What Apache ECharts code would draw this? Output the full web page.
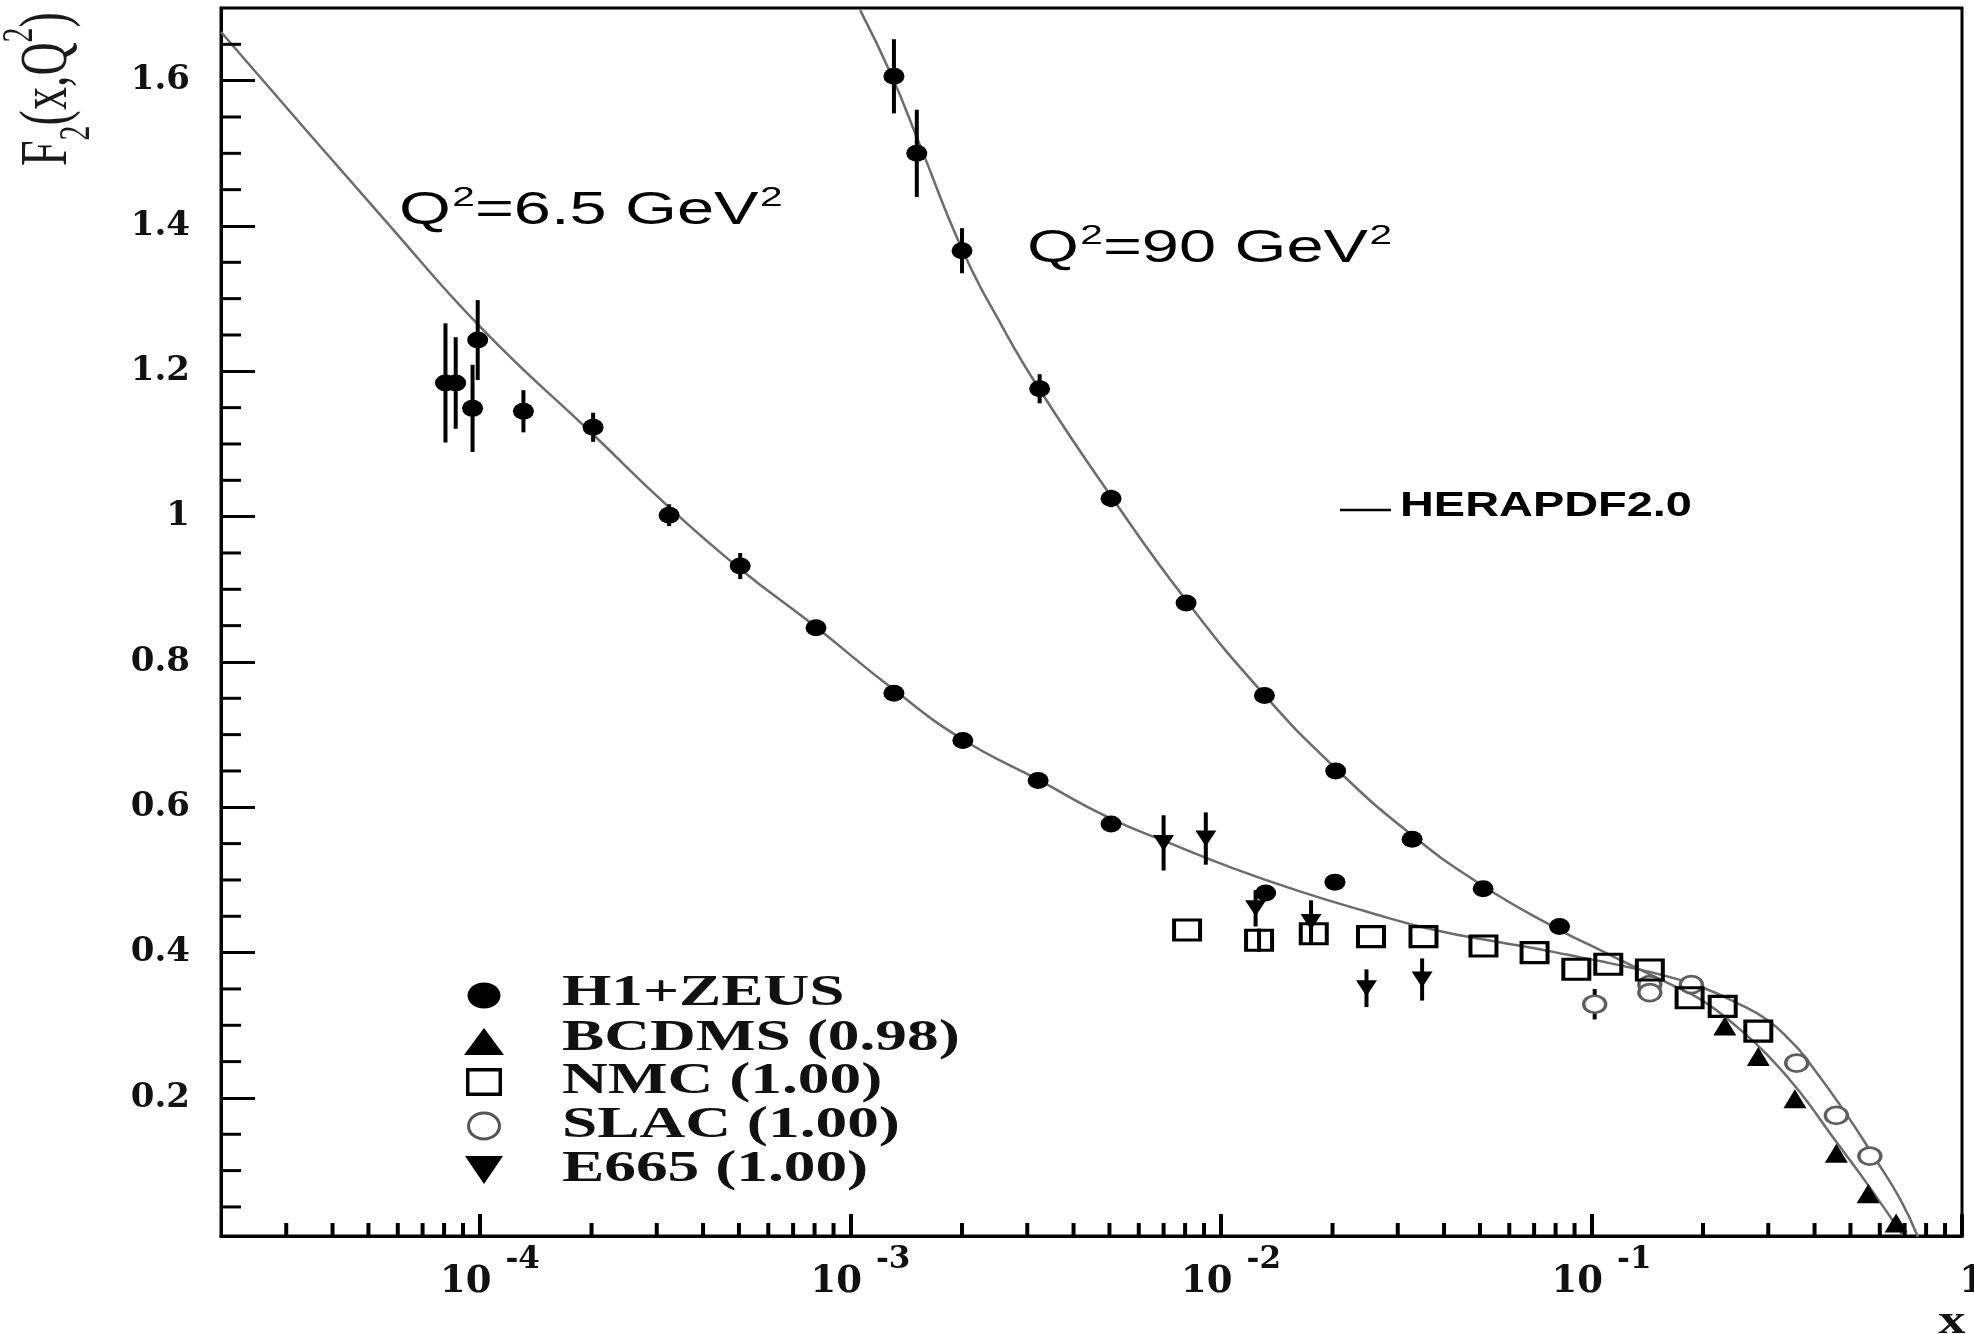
<!DOCTYPE html>
<html>
<head>
<meta charset="utf-8">
<script src="https://cdn.jsdelivr.net/npm/echarts@6/dist/echarts.min.js"></script>
<style>
  html, body { margin: 0; padding: 0; background: #ffffff; }
  #chart { width: 1974px; height: 1334px; }
</style>
</head>
<body>
<div id="chart"></div>
<script>
// Axis ranges
const X_MIN = 2e-5, X_MAX = 1;
const Y_MIN = 0.01, Y_MAX = 1.7;

// H1+ZEUS combined data, Q^2 = 6.5 GeV^2
const h1zeusQ65X = [8.07e-5, 8.6e-5, 9.55e-5, 9.86e-5, 1.31e-4, 2.02e-4, 3.24e-4, 5.04e-4, 8.07e-4, 1.31e-3, 2.01e-3, 3.21e-3, 5.05e-3, 1.32e-2, 2.03e-2];
const h1zeusQ65Y = [1.184, 1.184, 1.149, 1.243, 1.145, 1.123, 1.002, 0.932, 0.847, 0.757, 0.692, 0.637, 0.577, 0.482, 0.497];
const h1zeusQ65Err = [0.082, 0.063, 0.060, 0.055, 0.029, 0.020, 0.015, 0.018, 0.008, 0.008, 0.008, 0.008, 0.008, 0.010, 0.010];

// H1+ZEUS combined data, Q^2 = 90 GeV^2
const h1zeusQ90X = [1.31e-3, 1.51e-3, 2.0e-3, 3.24e-3, 5.05e-3, 8.05e-3, 1.31e-2, 2.04e-2, 3.28e-2, 5.1e-2, 8.2e-2];
const h1zeusQ90Y = [1.606, 1.500, 1.366, 1.176, 1.025, 0.881, 0.754, 0.650, 0.556, 0.488, 0.436];
const h1zeusQ90Err = [0.051, 0.060, 0.031, 0.020, 0.012, 0.010, 0.008, 0.008, 0.008, 0.007, 0.007];

// Fixed-target data
const bcdmsX = [0.229, 0.282, 0.354, 0.458, 0.558, 0.664];
const bcdmsY = [0.299, 0.257, 0.199, 0.124, 0.068, 0.028];

const nmcX = [8.1e-3, 1.267e-2, 1.78e-2, 2.54e-2, 3.52e-2, 5.11e-2, 7.02e-2, 9.1e-2, 0.111, 0.1437, 0.184, 0.226, 0.282];
const nmcY = [0.431, 0.417, 0.426, 0.422, 0.422, 0.409, 0.400, 0.377, 0.384, 0.376, 0.338, 0.326, 0.292];
const nmcErr = [0, 0.016, 0, 0, 0, 0, 0, 0, 0, 0, 0, 0, 0];

const slacX = [0.102, 0.1437, 0.1437, 0.186, 0.358, 0.458, 0.564];
const slacY = [0.329, 0.356, 0.345, 0.356, 0.248, 0.176, 0.120];
const slacErr = [0.021, 0, 0, 0, 0, 0, 0];

const e665X = [7.0e-3, 9.1e-3, 1.24e-2, 1.75e-2, 2.47e-2, 3.49e-2];
const e665Y = [0.551, 0.557, 0.461, 0.442, 0.351, 0.363];
const e665Err = [0.038, 0.036, 0.025, 0.030, 0.026, 0.029];

// HERAPDF2.0 curves
const herapdfQ65X = [2e-5, 5.65e-5, 1.02e-4, 2.03e-4, 3.16e-4, 5.01e-4, 8.07e-4, 1.30e-3, 2.0e-3, 3.21e-3, 5.01e-3, 7.16e-3, 1.08e-2, 1.64e-2, 2.49e-2, 3.77e-2, 5.70e-2, 7.02e-2, 8.63e-2, 0.106, 0.131, 0.161, 0.197, 0.244, 0.299, 0.350, 0.376, 0.475, 0.582, 0.682, 0.760];
const herapdfQ65Y = [1.667, 1.403, 1.257, 1.112, 1.018, 0.929, 0.848, 0.763, 0.694, 0.638, 0.585, 0.552, 0.516, 0.484, 0.456, 0.431, 0.414, 0.406, 0.397, 0.388, 0.378, 0.367, 0.353, 0.332, 0.307, 0.275, 0.257, 0.186, 0.117, 0.060, 0.009];

const herapdfQ90X = [1.062e-3, 1.291e-3, 1.535e-3, 2.018e-3, 2.553e-3, 3.228e-3, 5.05e-3, 8.02e-3, 1.313e-2, 2.036e-2, 3.236e-2, 5.05e-2, 8.14e-2, 0.106, 0.131, 0.161, 0.198, 0.244, 0.300, 0.369, 0.454, 0.558, 0.692];
const herapdfQ90Y = [1.697, 1.607, 1.513, 1.364, 1.264, 1.176, 1.028, 0.886, 0.754, 0.654, 0.564, 0.493, 0.432, 0.403, 0.380, 0.358, 0.335, 0.300, 0.258, 0.205, 0.142, 0.080, 0.011];

// Axis tick values
const xMinorTicks = [3e-5, 4e-5, 5e-5, 6e-5, 7e-5, 8e-5, 9e-5,
  2e-4, 3e-4, 4e-4, 5e-4, 6e-4, 7e-4, 8e-4, 9e-4,
  2e-3, 3e-3, 4e-3, 5e-3, 6e-3, 7e-3, 8e-3, 9e-3,
  2e-2, 3e-2, 4e-2, 5e-2, 6e-2, 7e-2, 8e-2, 9e-2,
  0.2, 0.3, 0.4, 0.5, 0.6, 0.7, 0.8, 0.9];
const yMinorTicks = [0.05, 0.1, 0.15, 0.25, 0.3, 0.35, 0.45, 0.5, 0.55, 0.65, 0.7, 0.75, 0.85, 0.9, 0.95,
  1.05, 1.1, 1.15, 1.25, 1.3, 1.35, 1.45, 1.5, 1.55, 1.65];

// Text
const legendLabels = ['H1+ZEUS', 'BCDMS (0.98)', 'NMC (1.00)', 'SLAC (1.00)', 'E665 (1.00)'];
const curveLabel = 'HERAPDF2.0';
const q2Labels = ['6.5', '90'];

const SERIF = '"Liberation Serif", "Times New Roman", serif';
const SANS = '"Liberation Sans", Arial, sans-serif';
const TICKFONT = '"DejaVu Serif", serif';
const INK = '#111111';
const CURVE = '#6c6c6c';

const pts = (xs, ys) => xs.map((x, i) => [x, ys[i]]);
const bars = (xs, ys, es) => xs.map((x, i) => [x, ys[i] - es[i], ys[i] + es[i]]).filter((d, i) => es[i] > 0);

function errorBarSeries(data) {
  return {
    type: 'custom', z: 3, silent: true,
    data: data,
    encode: { x: 0, y: [1, 2] },
    renderItem: function (params, api) {
      const x = api.value(0);
      const a = api.coord([x, api.value(1)]);
      const b = api.coord([x, api.value(2)]);
      return { type: 'line', shape: { x1: a[0], y1: a[1], x2: b[0], y2: b[1] },
               style: { stroke: '#000', lineWidth: 4 } };
    }
  };
}

function curveSeries(name, data) {
  return {
    type: 'line', name: name, data: data, showSymbol: false, symbol: 'none',
    smooth: 0.5, clip: true, z: 2, silent: true,
    lineStyle: { color: CURVE, width: 2.5 }
  };
}

const chart = echarts.init(document.getElementById('chart'), null, { renderer: 'canvas' });

const xLabelRich = {
  b: { fontFamily: TICKFONT, fontWeight: 'bold', fontSize: 37, lineHeight: 37, color: INK, padding: [20, 0, 0, 0] },
  e: { fontFamily: TICKFONT, fontWeight: 'bold', fontSize: 31, lineHeight: 31, color: INK, padding: [0, 0, 26, 14] },
  one: { fontFamily: TICKFONT, fontWeight: 'bold', fontSize: 37, lineHeight: 37, color: INK, padding: [20, 0, 0, 0] }
};

function q2Text(val) {
  return '{m|Q}{s|2}{m|=' + val + ' GeV}{s|2}';
}
const q2Rich = {
  m: { fontFamily: SANS, fontSize: 46, lineHeight: 46, padding: [4, 0, 0, 0], fill: '#000' },
  s: { fontFamily: SANS, fontSize: 28, lineHeight: 28, padding: [0, 0, 22, 1], fill: '#000' }
};

const legendRowsY = [994, 1039, 1082, 1126, 1169.5];
const legendGraphics = [];
// legend markers
legendGraphics.push({ type: 'ellipse', shape: { cx: 484, cy: 995.5, rx: 16.5, ry: 13 }, style: { fill: '#000' } });
legendGraphics.push({ type: 'polygon', shape: { points: [[464, 1055], [504, 1055], [484, 1028]] }, style: { fill: '#000' } });
legendGraphics.push({ type: 'rect', shape: { x: 467.75, y: 1069.75, width: 32.5, height: 24.5 }, style: { fill: 'none', stroke: '#000', lineWidth: 3.5 } });
legendGraphics.push({ type: 'ellipse', shape: { cx: 484, cy: 1126, rx: 15.5, ry: 13 }, style: { fill: 'none', stroke: '#555', lineWidth: 3 } });
legendGraphics.push({ type: 'polygon', shape: { points: [[465, 1156], [503, 1156], [484, 1184]] }, style: { fill: '#000' } });
legendLabels.forEach(function (label, i) {
  legendGraphics.push({
    type: 'text', x: 562, y: legendRowsY[i], scaleX: 1.44,
    style: { text: label, fontFamily: SERIF, fontWeight: 'bold', fontSize: 44, fill: INK,
             align: 'left', verticalAlign: 'middle' }
  });
});

const option = {
  animation: false,
  backgroundColor: '#ffffff',
  grid: {
    left: 221, right: 12, top: 8, bottom: 98,
    show: true, borderColor: '#000', borderWidth: 3, backgroundColor: 'transparent',
    outerBoundsMode: 'none'
  },
  xAxis: {
    type: 'log', logBase: 10, min: X_MIN, max: X_MAX,
    axisLine: { show: true, lineStyle: { color: '#000', width: 3 } },
    axisTick: { show: true, inside: true, length: 22, lineStyle: { color: '#000', width: 4 } },
    splitLine: { show: false },
    minorTick: { show: false },
    axisLabel: {
      show: true, showMinLabel: false, showMaxLabel: true, hideOverlap: false,
      margin: 18, padding: [0, 0, 0, 20], color: INK,
      formatter: function (v) {
        const lg = Math.log10(v);
        const ex = Math.round(lg);
        if (Math.abs(lg - ex) > 1e-6) return '';
        if (ex === 0) return '{one|1}';
        return '{b|10}{e|' + ex + '}';
      },
      rich: xLabelRich
    }
  },
  yAxis: {
    type: 'value', min: Y_MIN, max: Y_MAX, splitNumber: 8,
    axisLine: { show: true, lineStyle: { color: '#000', width: 3 } },
    axisTick: { show: true, inside: true, length: 34, lineStyle: { color: '#000', width: 3 } },
    splitLine: { show: false },
    axisLabel: {
      show: true, showMinLabel: false, showMaxLabel: false, margin: 31,
      fontFamily: TICKFONT, fontWeight: 'bold', fontSize: 34, color: INK
    }
  },
  series: [
    curveSeries('HERAPDF2.0 Q2=6.5', pts(herapdfQ65X, herapdfQ65Y)),
    curveSeries('HERAPDF2.0 Q2=90', pts(herapdfQ90X, herapdfQ90Y)),
    errorBarSeries(bars(h1zeusQ65X, h1zeusQ65Y, h1zeusQ65Err)),
    errorBarSeries(bars(h1zeusQ90X, h1zeusQ90Y, h1zeusQ90Err)),
    errorBarSeries(bars(nmcX, nmcY, nmcErr)),
    errorBarSeries(bars(slacX, slacY, slacErr)),
    errorBarSeries(bars(e665X, e665Y, e665Err)),
    {
      type: 'scatter', name: 'H1+ZEUS', z: 5, silent: true,
      data: pts(h1zeusQ65X, h1zeusQ65Y), symbol: 'circle', symbolSize: [21, 17],
      itemStyle: { color: '#000', opacity: 1 }
    },
    {
      type: 'scatter', name: 'H1+ZEUS', z: 5, silent: true,
      data: pts(h1zeusQ90X, h1zeusQ90Y), symbol: 'circle', symbolSize: [21, 17],
      itemStyle: { color: '#000', opacity: 1 }
    },
    {
      type: 'scatter', name: 'BCDMS (0.98)', z: 5, silent: true,
      data: pts(bcdmsX, bcdmsY), symbol: 'triangle', symbolSize: [23, 19],
      itemStyle: { color: '#000', opacity: 1 }
    },
    {
      type: 'scatter', name: 'NMC (1.00)', z: 5, silent: true,
      data: pts(nmcX, nmcY), symbol: 'rect', symbolSize: [26, 20],
      itemStyle: { color: 'rgba(0,0,0,0)', borderColor: '#000', borderWidth: 3.5, opacity: 1 }
    },
    {
      type: 'scatter', name: 'SLAC (1.00)', z: 4, silent: true,
      data: pts(slacX, slacY), symbol: 'circle', symbolSize: [22, 17],
      itemStyle: { color: '#ffffff', borderColor: '#5e5e5e', borderWidth: 3, opacity: 1 }
    },
    {
      type: 'scatter', name: 'E665 (1.00)', z: 5, silent: true,
      data: pts(e665X, e665Y), symbol: 'triangle', symbolRotate: 180, symbolSize: [21, 16],
      itemStyle: { color: '#000', opacity: 1 }
    },
    // minor tick marks along the bottom axis
    {
      type: 'custom', silent: true, z: 6,
      data: xMinorTicks.map(v => [v, Y_MIN]),
      encode: { x: 0, y: 1 },
      renderItem: function (params, api) {
        const p = api.coord([api.value(0), api.value(1)]);
        return { type: 'line', shape: { x1: p[0], y1: p[1], x2: p[0], y2: p[1] - 13 },
                 style: { stroke: '#000', lineWidth: 4 } };
      }
    },
    // minor tick marks along the left axis
    {
      type: 'custom', silent: true, z: 6,
      data: yMinorTicks.map(v => [X_MIN, v]),
      encode: { x: 0, y: 1 },
      renderItem: function (params, api) {
        const p = api.coord([api.value(0), api.value(1)]);
        return { type: 'line', shape: { x1: p[0], y1: p[1], x2: p[0] + 20, y2: p[1] },
                 style: { stroke: '#000', lineWidth: 3 } };
      }
    }
  ],
  graphic: [
    // y-axis title
    {
      type: 'text', x: 48, y: 166, rotation: Math.PI / 2, scaleY: 1.45,
      style: {
        text: '{a|F}{b|2}{a|(x,Q}{c|2}{a|)}',
        align: 'left', verticalAlign: 'middle', fill: '#1a1a1a',
        rich: {
          a: { fontFamily: SERIF, fontSize: 46, lineHeight: 46, fill: '#1a1a1a' },
          b: { fontFamily: SERIF, fontSize: 30, lineHeight: 30, padding: [41, 0, 0, 0], fill: '#1a1a1a' },
          c: { fontFamily: SERIF, fontSize: 30, lineHeight: 30, padding: [0, 0, 38, 0], fill: '#1a1a1a' }
        }
      }
    },
    // x-axis title
    {
      type: 'text', x: 1952, y: 1322, scaleX: 1.3,
      style: { text: 'x', fontFamily: SERIF, fontWeight: 'bold', fontSize: 42, fill: INK,
               align: 'center', verticalAlign: 'middle' }
    },
    // Q^2 annotations
    {
      type: 'text', x: 399, y: 209, scaleX: 1.45,
      style: { text: q2Text(q2Labels[0]), rich: q2Rich, align: 'left', verticalAlign: 'middle', fill: '#000' }
    },
    {
      type: 'text', x: 1027, y: 247, scaleX: 1.45,
      style: { text: q2Text(q2Labels[1]), rich: q2Rich, align: 'left', verticalAlign: 'middle', fill: '#000' }
    },
    // curve key
    {
      type: 'line', shape: { x1: 1340, y1: 510, x2: 1391, y2: 510 },
      style: { stroke: '#000', lineWidth: 2.5 }
    },
    {
      type: 'text', x: 1400, y: 506, scaleX: 1.34,
      style: { text: curveLabel, fontFamily: SANS, fontWeight: 'bold', fontSize: 35, fill: '#000',
               align: 'left', verticalAlign: 'middle' }
    }
  ].concat(legendGraphics)
};

chart.setOption(option);
</script>
</body>
</html>
